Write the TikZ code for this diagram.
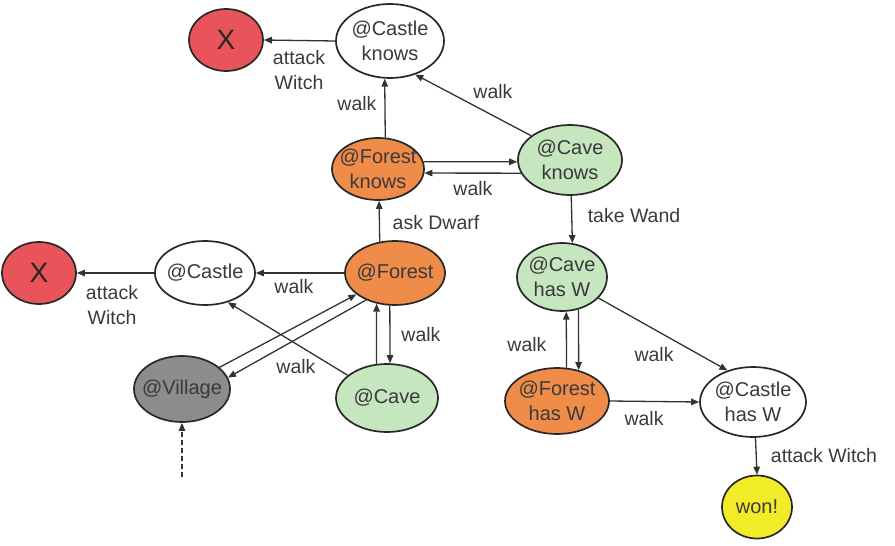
\documentclass[tikz,border=0pt]{standalone}
\usepackage{fontspec}
\setmainfont{Liberation Sans}
\usetikzlibrary{shapes.geometric,arrows.meta,calc}

\definecolor{edgecol}{RGB}{40,40,40}
\definecolor{arrcol}{RGB}{50,50,50}
\definecolor{txtcol}{RGB}{58,58,58}
\definecolor{failred}{RGB}{232,84,90}
\definecolor{forestor}{RGB}{240,140,74}
\definecolor{cavegreen}{RGB}{198,230,192}
\definecolor{villagegray}{RGB}{140,140,140}
\definecolor{winyellow}{RGB}{242,236,40}

\begin{document}
\begin{tikzpicture}[x=1pt,y=-1pt,
  st/.style={ellipse, draw=edgecol, line width=1.7pt, inner sep=0pt, fill=white},
  txt/.style={font=\fontsize{20}{25}\selectfont, align=center, text=txtcol, inner sep=0pt},
  bigx/.style={font=\fontsize{28}{30}\selectfont, text=black!85, inner sep=0pt},
  lbl/.style={font=\fontsize{19.5}{25}\selectfont, align=center, text=txtcol, inner sep=0pt},
  arr/.style={draw=arrcol, line width=1.3pt, -{Triangle[length=8pt,width=6.5pt]}},
  start/.style={draw=arrcol, line width=1.3pt, dash pattern=on 5pt off 3pt,
    -{Triangle[length=8pt,width=6.5pt]}},
]
\useasboundingbox (0,0) rectangle (895,546);

% ---------- states ----------
\node[st, fill=failred, minimum width=74pt, minimum height=62pt,
  label={[bigx]center:X}] (x1) at (226,40) {};
\node[st, minimum width=108pt, minimum height=74pt,
  label={[txt]center:@Castle\\knows}] (ck) at (390,41) {};
\node[st, fill=forestor, minimum width=92pt, minimum height=62pt,
  label={[txt]center:@Forest\\knows}] (fk) at (378,169) {};
\node[st, fill=cavegreen, minimum width=104pt, minimum height=70pt,
  label={[txt]center:@Cave\\knows}] (cvk) at (570,160) {};

\node[st, fill=failred, minimum width=74pt, minimum height=62pt,
  label={[bigx]center:X}] (x2) at (39,273) {};
\node[st, minimum width=100pt, minimum height=64pt,
  label={[txt]center:@Castle}] (cm) at (205,273) {};
\node[st, fill=forestor, minimum width=100pt, minimum height=64pt,
  label={[txt]center:@Forest}] (fo) at (395,273) {};
\node[st, fill=villagegray, minimum width=96pt, minimum height=66pt,
  label={[txt]center:@Village}] (vi) at (182,389) {};
\node[st, fill=cavegreen, minimum width=102pt, minimum height=68pt,
  label={[txt]center:@Cave}] (cv) at (387,398) {};

\node[st, fill=cavegreen, minimum width=90pt, minimum height=68pt,
  label={[txt]center:@Cave\\has W}] (cvw) at (562,277) {};
\node[st, fill=forestor, minimum width=104pt, minimum height=66pt,
  label={[txt]center:@Forest\\has W}] (fow) at (557,401) {};
\node[st, minimum width=106pt, minimum height=70pt,
  label={[txt]center:@Castle\\has W}] (csw) at (753,402) {};
\node[st, fill=winyellow, minimum width=70pt, minimum height=63pt,
  label={[txt]center:won!}] (won) at (757,507) {};

\coordinate (entry) at (182,477);

% ---------- transitions ----------
\draw[arr] (ck.west) -- (x1.east);
\draw[arr] (fk.77) -- (ck.262);
\draw[arr] (cvk.148) -- (ck.-53);
\draw[arr] (fk.9) -- (cvk.182);
\draw[arr] (cvk.195) -- (fk.-5);
\draw[arr] (fo.116) -- (fk.-88);
\draw[arr] (cvk.-88) -- (cvw.73);

\draw[arr] (fo.west) -- (cm.east);
\draw[arr] (cm.west) -- (x2.east);
\draw[arr] (cv.107) -- (fo.-121);
\draw[arr] (fo.-99) -- (cv.85);
\draw[arr] (vi.30) -- (fo.209);
\draw[arr] (fo.223) -- (vi.14);
\draw[arr] (cv.150) -- (cm.-52);
\draw[start] (entry) -- (vi.south);

\draw[arr] (fow.74) -- (cvw.-83);
\draw[arr] (cvw.-63) -- (fow.55);
\draw[arr] (cvw.-30) -- (csw.129);
\draw[arr] (fow.east) -- (csw.west);
\draw[arr] (csw.-86) -- (won.north);

% ---------- transition labels ----------
\node[lbl] (l1) at (299,70) {attack\\Witch};
\node[lbl] (l2) at (357,104) {walk};
\node[lbl] (l3) at (493,92) {walk};
\node[lbl] (l4) at (473,189) {walk};
\node[lbl] (l5) at (436,223) {ask Dwarf};
\node[lbl] (l6) at (634,216) {take Wand};
\node[lbl] (l7) at (294,287) {walk};
\node[lbl] (l8) at (112,305) {attack\\Witch};
\node[lbl] (l9) at (421,335) {walk};
\node[lbl] (l10) at (296,367) {walk};
\node[lbl] (l11) at (527,345) {walk};
\node[lbl] (l12) at (654,355) {walk};
\node[lbl] (l13) at (644,419) {walk};
\node[lbl] (l14) at (824,456) {attack Witch};
\end{tikzpicture}
\end{document}
